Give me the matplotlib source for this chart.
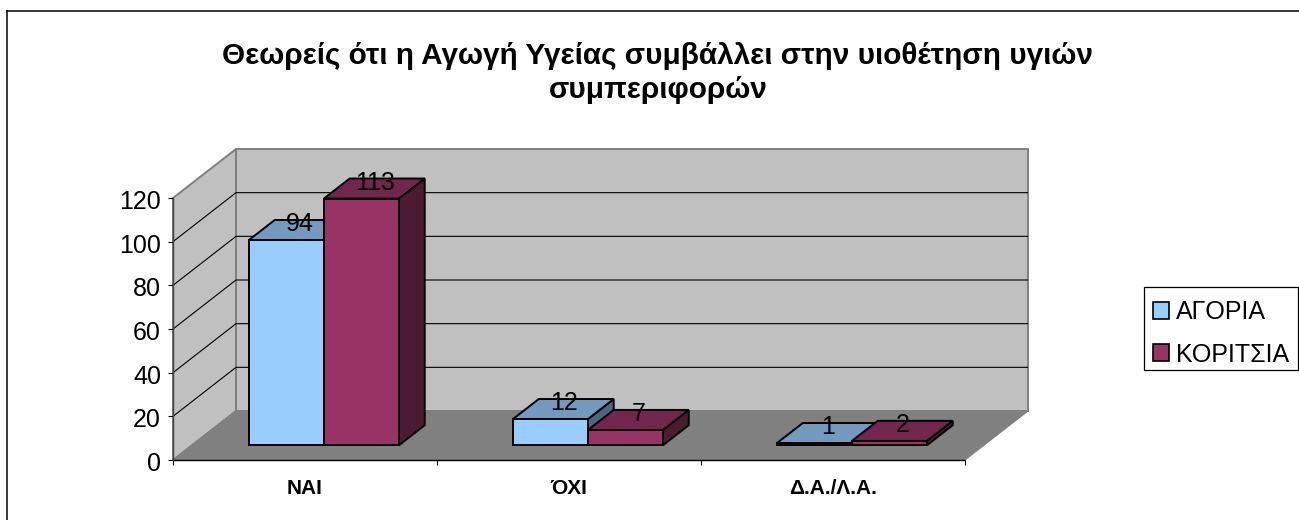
import matplotlib
matplotlib.use("Agg")
import matplotlib.pyplot as plt
from matplotlib.patches import Polygon, Patch, Rectangle
from matplotlib.lines import Line2D
from matplotlib.transforms import ScaledTranslation

plt.rcParams['font.family'] = ['Liberation Sans', 'DejaVu Sans']

title = "Θεωρείς ότι η Αγωγή Υγείας συμβάλλει στην υιοθέτηση υγιών\nσυμπεριφορών"
categories = ["ΝΑΙ", "ΌΧΙ", "Δ.Α./Λ.Α."]
series_names = ["ΑΓΟΡΙΑ", "ΚΟΡΙΤΣΙΑ"]
agoria = [94, 12, 1]
koritsia = [113, 7, 2]
y_ticks = [0, 20, 40, 60, 80, 100, 120]

front = ["#99CCFF", "#993366"]
top = ["#7399BF", "#73264D"]
side = ["#4D6680", "#4D1A33"]

W, H = 1299, 520
fig = plt.figure(figsize=(W / 100, H / 100), dpi=100, facecolor="white")
ax = fig.add_axes([173 / W, (H - 460) / H, 792 / W, 262 / H])
ax.set_xlim(0, 3)
ax.set_ylim(0, 120)
for s in ax.spines.values():
    s.set_visible(False)
ax.patch.set_visible(False)

# depth projection, in data units per unit of depth
DX = 63 / 264
DY = 49 / (262 / 120)

def P(x, y, d=0.0):
    return (x + d * DX, y + d * DY)

def poly(pts, fc, ec="none", lw=0.0, z=1):
    ax.add_patch(Polygon(pts, closed=True, facecolor=fc, edgecolor=ec, linewidth=lw,
                         zorder=z, clip_on=False, joinstyle="miter"))

def line(pts, color, lw, z=2):
    xs, ys = zip(*pts)
    ax.add_line(Line2D(xs, ys, color=color, linewidth=lw, zorder=z, clip_on=False,
                       solid_capstyle="butt"))

# walls and floor
ymax = y_ticks[-1]
poly([P(0, 0, 1), P(3, 0, 1), P(3, ymax, 1), P(0, ymax, 1)], "#C0C0C0", "#808080", 1.4)
poly([P(0, 0), P(0, ymax), P(0, ymax, 1), P(0, 0, 1)], "#C0C0C0", "#808080", 1.4)
poly([P(0, 0), P(3, 0), P(3, 0, 1), P(0, 0, 1)], "#808080", "#808080", 0.8)

# gridlines
for v in y_ticks[1:-1]:
    line([P(0, v), P(0, v, 1), P(3, v, 1)], "black", 0.8)
line([P(0, 0), P(3, 0)], "black", 1.0, 3)
line([P(0, 0), P(0, ymax)], "#404040", 1.0, 3)

# bars
BW = 75 / 264
D0, D1 = 0.30, 0.71
OUT = dict(ec="black", lw=1.4)
zc = 5
for c, (a, k) in enumerate(zip(agoria, koritsia)):
    for i, v in enumerate((a, k)):
        x0 = c + 0.5 - BW + i * BW
        x1 = x0 + BW
        poly([P(x1, 0, D0), P(x1, 0, D1), P(x1, v, D1), P(x1, v, D0)], side[i], z=zc, **OUT)
        poly([P(x0, v, D0), P(x1, v, D0), P(x1, v, D1), P(x0, v, D1)], top[i], z=zc, **OUT)
        poly([P(x0, 0, D0), P(x1, 0, D0), P(x1, v, D0), P(x0, v, D0)], front[i], z=zc, **OUT)
        zc += 1
        xl, yl = P(x0 + BW / 2, v, 0.5)
        ax.annotate(str(v), (xl, yl), xytext=(0.7, 4.5), textcoords="offset points",
                    ha="center", va="center", fontsize=18, color="black",
                    zorder=20, annotation_clip=False)

# axes ticks
ax.set_yticks(y_ticks)
ax.tick_params(axis="y", length=3.6, width=0.8, pad=5, labelsize=18, colors="black")
shift = ScaledTranslation(0, -1.5 / 100, fig.dpi_scale_trans)
for lab in ax.get_yticklabels():
    lab.set_transform(lab.get_transform() + shift)
ax.set_xticks(range(len(categories) + 1))
ax.set_xticklabels([])
ax.tick_params(axis="x", which="major", length=3.6, width=0.8)
ax.set_xticks([i + 0.5 for i in range(len(categories))], minor=True)
ax.set_xticklabels(categories, minor=True, fontsize=15, fontweight="bold")
ax.tick_params(axis="x", which="minor", length=0, pad=14)

fig.text(658 / W, 1 - 73 / H, title, ha="center", va="center", fontsize=21.4,
         fontweight="bold", linespacing=1.31)

# chart area border (only top and left fall inside the picture)
fig.add_artist(Line2D([7 / W, 7 / W], [0, 1 - 10.5 / H], color="black", lw=1.1))
fig.add_artist(Line2D([7 / W, 1], [1 - 10.5 / H, 1 - 10.5 / H], color="black", lw=1.1))

# legend frame and entries
fig.add_artist(Rectangle((1144 / W, 1 - 370 / H), 154 / W, 83 / H, transform=fig.transFigure,
                         facecolor="white", edgecolor="black", linewidth=0.9))
handles = [Patch(facecolor=front[i], edgecolor="black", linewidth=1.2, label=series_names[i]) for i in range(2)]
leg = fig.legend(handles=handles, loc="upper left",
                 bbox_to_anchor=(1144 / W, 1 - 291 / H), bbox_transform=fig.transFigure,
                 fontsize=18, frameon=False,
                 borderaxespad=0, borderpad=0.36, handlelength=0.65, handleheight=0.65,
                 handletextpad=0.28, labelspacing=0.74)
leg.set_zorder(10)

fig.savefig("out.png", dpi=100)
